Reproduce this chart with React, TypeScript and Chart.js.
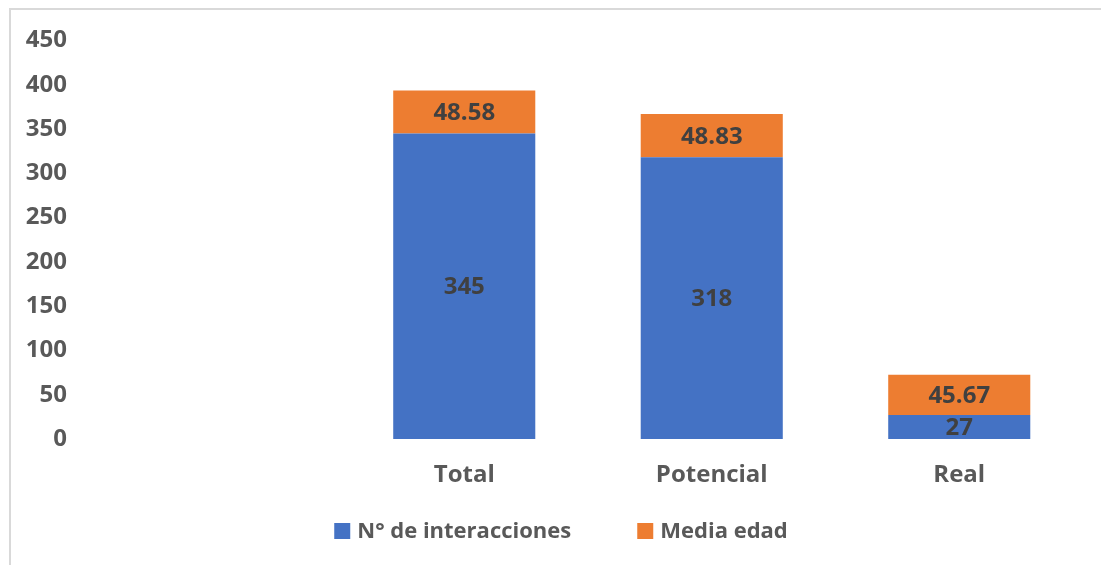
import React, { useEffect, useRef } from "react";
import { Chart, registerables } from "chart.js";

Chart.register(...registerables);

const categories = ["", "Total", "Potencial", "Real"];
const interacciones = [null, 345, 318, 27];
const mediaEdad = [null, 48.58, 48.83, 45.67];
const seriesNames = ["N° de interacciones", "Media edad"];
const seriesColors = ["#4472C4", "#ED7D31"];
const yTicks = { min: 0, max: 450, step: 50 };

const FONT = "'Open Sans', sans-serif";

const dataLabelPlugin = {
  id: "dataLabels",
  afterDatasetsDraw(chart: any) {
    const ctx = chart.ctx;
    ctx.save();
    ctx.font = `bold 24px ${FONT}`;
    ctx.fillStyle = "#404040";
    ctx.textAlign = "center";
    ctx.textBaseline = "middle";
    chart.data.datasets.forEach((ds: any, di: number) => {
      const meta = chart.getDatasetMeta(di);
      meta.data.forEach((el: any, i: number) => {
        const v = ds.data[i];
        if (v == null) return;
        const p = el.getProps(["x", "y", "base"], true);
        ctx.fillText(String(v), p.x, (p.y + p.base) / 2 + 1);
      });
    });
    ctx.restore();
  },
};

const legendPlugin = {
  id: "customLegend",
  afterDraw(chart: any) {
    const ctx = chart.ctx;
    ctx.save();
    ctx.font = `bold 22px ${FONT}`;
    const box = 16;
    const gapText = 7;
    const gapItem = 66;
    const items = chart.data.datasets.map((ds: any) => ({
      label: ds.label,
      color: ds.backgroundColor,
      w: box + gapText + ctx.measureText(ds.label).width,
    }));
    const total = items.reduce((s: number, it: any) => s + it.w, 0) + gapItem * (items.length - 1);
    let x = 561 - total / 2;
    const cy = 531;
    items.forEach((it: any) => {
      ctx.fillStyle = it.color;
      ctx.fillRect(x, cy - box / 2, box, box);
      ctx.fillStyle = "#595959";
      ctx.textAlign = "left";
      ctx.textBaseline = "middle";
      ctx.fillText(it.label, x + box + gapText, cy + 1);
      x += it.w + gapItem;
    });
    ctx.restore();
  },
};

export default function App() {
  const ref = useRef<HTMLCanvasElement>(null);
  useEffect(() => {
    if (!ref.current) return;
    const chart = new Chart(ref.current, {
      type: "bar",
      data: {
        labels: categories,
        datasets: [
          { label: seriesNames[0], data: interacciones as any, backgroundColor: seriesColors[0] },
          { label: seriesNames[1], data: mediaEdad as any, backgroundColor: seriesColors[1] },
        ],
      },
      options: {
        animation: false,
        responsive: false,
        maintainAspectRatio: false,
        layout: { padding: { top: 36, right: 18, left: 0, bottom: 0 } },
        datasets: { bar: { categoryPercentage: 1, barPercentage: 0.574 } } as any,
        plugins: { legend: { display: false }, tooltip: { enabled: false } },
        scales: {
          x: {
            stacked: true,
            grid: { display: false, drawTicks: false },
            border: { display: false },
            ticks: { color: "#595959", font: { family: FONT, size: 24, weight: "bold" }, padding: 22 },
            afterFit: (s: any) => { s.height = 126; },
          },
          y: {
            stacked: true,
            min: yTicks.min,
            max: yTicks.max,
            grid: { display: false, drawTicks: false },
            border: { display: false },
            ticks: { stepSize: yTicks.step, color: "#595959", font: { family: FONT, size: 24, weight: "bold" }, padding: 26 },
            afterFit: (s: any) => { s.width = 93; },
          },
        },
      },
      plugins: [dataLabelPlugin, legendPlugin],
    });
    return () => chart.destroy();
  }, []);
  return (
    <div style={{ position: "fixed", left: 0, top: 0, width: 1101, height: 565, background: "#fff" }}>
      <div style={{ position: "absolute", left: 9, top: 8, right: 0, bottom: 0, borderLeft: "2px solid #d9d9d9", borderTop: "2px solid #d9d9d9" }} />
      <canvas ref={ref} width={1101} height={565} style={{ position: "absolute", left: 0, top: 0 }} />
    </div>
  );
}
